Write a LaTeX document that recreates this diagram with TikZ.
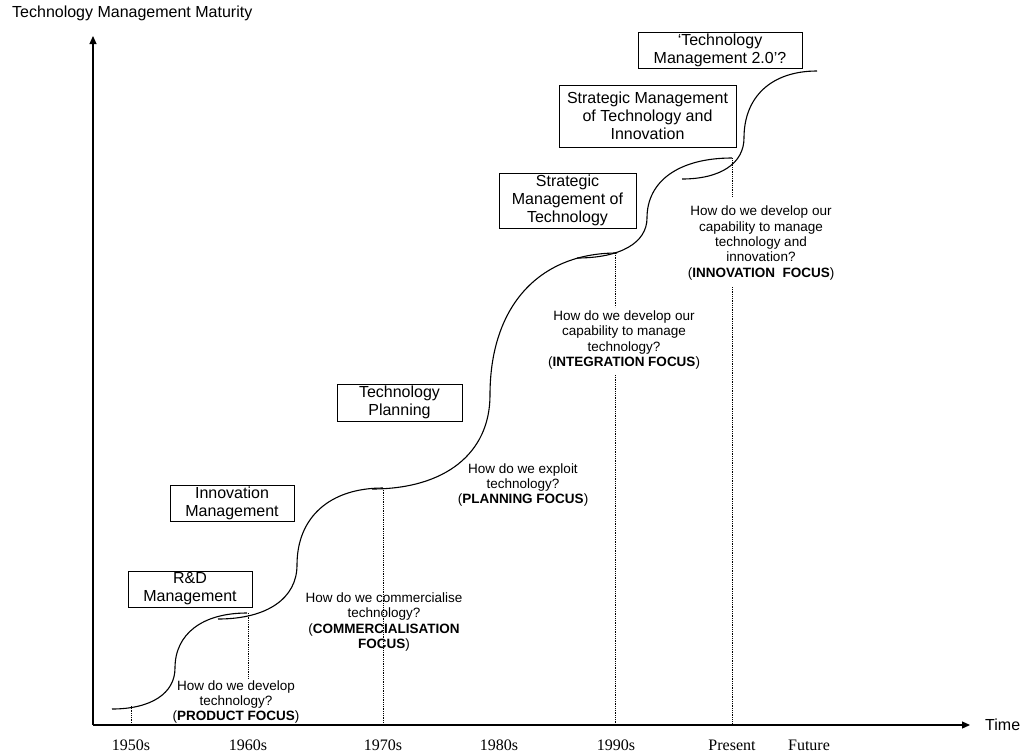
\documentclass[tikz,border=0pt]{standalone}
\usepackage{fontspec}
\setmainfont{Liberation Sans}
\newfontfamily\timesf{Liberation Serif}
\usetikzlibrary{arrows.meta}
\newcommand\bxf{\fontsize{16}{18}\selectfont}
\newcommand\ntf{\fontsize{13.5}{15.3}\selectfont}
\newcommand\yrf{\timesf\fontsize{16}{18}\selectfont}
% S-shaped growth curve: start (#1,#2), vertical middle (#3,#4), end (#5,#6)
\newcommand\scurve[6]{%
  \draw[growth] (#1,#2) .. controls ({#1+0.62*(#3-#1)},#2) and (#3,{#4+0.62*(#2-#4)}) .. (#3,#4)
    .. controls (#3,{#4-0.62*(#4-#6)}) and ({#5-0.62*(#5-#3)},#6) .. (#5,#6);}
\begin{document}
\begin{tikzpicture}[x=1pt,y=-1pt,
  box/.style={draw, line width=1pt, align=center, font=\bxf, inner sep=0pt},
  note/.style={align=center, font=\ntf, inner sep=0pt},
  year/.style={font=\yrf, inner sep=0pt},
  axis/.style={line width=1.2pt, -{Triangle[length=8pt,width=7pt]}},
  growth/.style={line width=1.1pt},
  guide/.style={densely dotted, line width=0.8pt}]
\useasboundingbox (0,0) rectangle (1026,753);

% axes
\coordinate (O) at (93,725);
\coordinate (Ytop) at (93,36);
\coordinate (Xend) at (970,725);
\draw[axis] (O) -- (Ytop);
\draw[axis] (O) -- (Xend);
\node[anchor=west, font=\bxf, inner sep=0pt] (ylab) at (12,13) {Technology Management Maturity};
\node[anchor=west, font=\bxf, inner sep=0pt] (xlab) at (985,725) {Time};

% year labels
\node[year] (y1950) at (131,745) {1950s};
\node[year] (y1960) at (248,745) {1960s};
\node[year] (y1970) at (383,745) {1970s};
\node[year] (y1980) at (499,745) {1980s};
\node[year] (y1990) at (616,745) {1990s};
\node[year] (ypres) at (732,745) {Present};
\node[year] (yfut) at (809,745) {Future};

% growth curves
\scurve{112}{709}{175}{668}{247}{613}
\scurve{218}{619}{297}{565}{383}{488}
\scurve{372}{489}{490}{395}{617}{253}
\scurve{577}{258}{647}{218}{732}{158}
\scurve{682}{179}{744}{138}{817}{71}

% dotted guides
\coordinate (g1a) at (131,706); \coordinate (g1b) at (131,725);
\coordinate (g2a) at (248,613); \coordinate (g2b) at (248,678);
\coordinate (g3a) at (383,488); \coordinate (g3b) at (383,725);
\coordinate (g4a) at (615,253); \coordinate (g4b) at (615,307);
\coordinate (g4c) at (615,375); \coordinate (g4d) at (615,725);
\coordinate (g5a) at (732,158); \coordinate (g5b) at (732,197);
\coordinate (g5c) at (732,287); \coordinate (g5d) at (732,725);
\draw[guide] (g1a) -- (g1b);
\draw[guide] (g2a) -- (g2b);
\draw[guide] (g3a) -- (g3b);
\draw[guide] (g4a) -- (g4b);
\draw[guide] (g4c) -- (g4d);
\draw[guide] (g5a) -- (g5b);
\draw[guide] (g5c) -- (g5d);

% boxes
\node[box, minimum width=124pt, minimum height=36pt] (rd) at (190,589) {R\&D\\Management};
\node[box, minimum width=124pt, minimum height=36pt] (im) at (232,503) {Innovation\\Management};
\node[box, minimum width=125pt, minimum height=37pt] (tp) at (399.5,402.5) {Technology\\Planning};
\node[box, minimum width=137pt, minimum height=55pt] (smt) at (567.5,200.5) {Strategic\\Management of\\Technology};
\node[box, minimum width=177pt, minimum height=62pt] (smti) at (647.5,116) {Strategic Management\\of Technology and\\Innovation};
\node[box, minimum width=164pt, minimum height=36pt] (tm2) at (720,50) {‘Technology\\Management 2.0’?};

% notes
\node[note] (n1) at (236,702) {How do we develop\\technology?\\(\textbf{PRODUCT FOCUS})};
\node[note] (n2) at (384,622) {How do we commercialise\\technology?\\(\textbf{COMMERCIALISATION}\\\textbf{FOCUS})};
\node[note] (n3) at (523,485) {How do we exploit\\technology?\\(\textbf{PLANNING FOCUS})};
\node[note] (n4) at (624,340) {How do we develop our\\capability to manage\\technology?\\(\textbf{INTEGRATION FOCUS})};
\node[note] (n5) at (761,243) {How do we develop our\\capability to manage\\technology and\\innovation?\\(\textbf{INNOVATION\ \ FOCUS})};
\end{tikzpicture}
\end{document}
